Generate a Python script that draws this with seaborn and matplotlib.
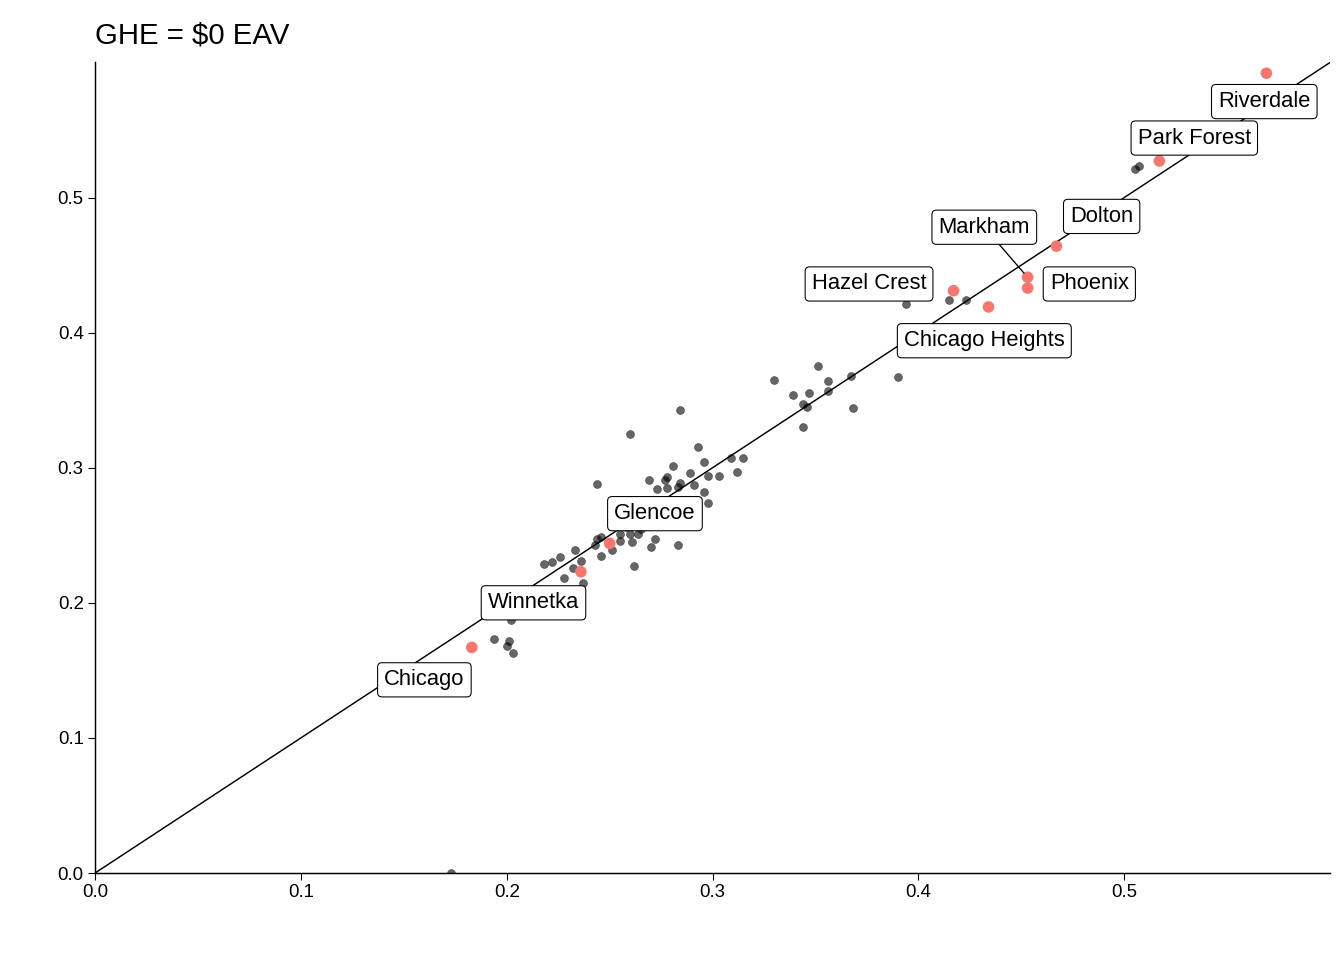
import matplotlib
matplotlib.use("Agg")
import matplotlib.pyplot as plt
import seaborn as sns
import pandas as pd

sns.set_style("ticks")
plt.rcParams['font.family'] = ['Liberation Sans', 'DejaVu Sans']
plt.rcParams['text.color'] = 'black'

# other municipalities (grey)
other_x = [0.505, 0.507, 0.394, 0.415, 0.423, 0.390, 0.367, 0.368, 0.330, 0.339, 0.347,
           0.351, 0.356, 0.344, 0.346, 0.356, 0.344, 0.284, 0.260, 0.293, 0.296, 0.309,
           0.315, 0.312, 0.303, 0.298, 0.289, 0.281, 0.278, 0.277, 0.269, 0.244, 0.284,
           0.283, 0.273, 0.278, 0.291, 0.296, 0.298, 0.255, 0.260, 0.264, 0.272, 0.261,
           0.270, 0.283, 0.262, 0.244, 0.246, 0.243, 0.246, 0.251, 0.233, 0.226, 0.222,
           0.218, 0.232, 0.236, 0.228, 0.237, 0.202, 0.194, 0.201, 0.200, 0.203, 0.173,
           0.255, 0.258, 0.265]
other_y = [0.521, 0.523, 0.421, 0.424, 0.424, 0.367, 0.368, 0.344, 0.365, 0.354, 0.355,
           0.375, 0.364, 0.347, 0.345, 0.357, 0.330, 0.343, 0.325, 0.315, 0.304, 0.307,
           0.307, 0.297, 0.294, 0.294, 0.296, 0.301, 0.293, 0.291, 0.291, 0.288, 0.289,
           0.286, 0.284, 0.285, 0.287, 0.282, 0.274, 0.251, 0.251, 0.251, 0.247, 0.245,
           0.241, 0.243, 0.227, 0.247, 0.249, 0.243, 0.235, 0.239, 0.239, 0.234, 0.230,
           0.229, 0.226, 0.231, 0.218, 0.215, 0.187, 0.173, 0.172, 0.168, 0.163, 0.000,
           0.246, 0.256, 0.255]

# highlighted municipalities
towns = ["Riverdale", "Park Forest", "Dolton", "Markham", "Phoenix", "Hazel Crest",
         "Chicago Heights", "Glencoe", "Winnetka", "Chicago"]
town_x = [0.569, 0.517, 0.467, 0.453, 0.453, 0.417, 0.434, 0.250, 0.236, 0.183]
town_y = [0.592, 0.527, 0.464, 0.441, 0.433, 0.431, 0.419, 0.244, 0.223, 0.167]
label_x = [0.568, 0.534, 0.489, 0.432, 0.483, 0.376, 0.432, 0.272, 0.213, 0.160]
label_y = [0.571, 0.544, 0.486, 0.478, 0.436, 0.436, 0.394, 0.266, 0.200, 0.143]

others = pd.DataFrame({"x": other_x, "y": other_y})
hl = pd.DataFrame({"x": town_x, "y": town_y, "name": towns})

fig = plt.figure(figsize=(14, 10), dpi=96)
ax = fig.add_axes([0.0707, 0.0906, 0.919, 0.8444])

ax.plot([0, 0.6], [0, 0.6], color="black", lw=1.1, zorder=1)
sns.scatterplot(data=others, x="x", y="y", ax=ax, color="black", alpha=0.6,
                s=36, edgecolor="black", linewidth=0.4, zorder=2)
sns.scatterplot(data=hl, x="x", y="y", ax=ax, color="#F8766D", s=75,
                edgecolor="none", zorder=3)

for name, px, py, lx, ly in zip(towns, town_x, town_y, label_x, label_y):
    arrow = None
    if name == "Markham":
        arrow = dict(arrowstyle="-", color="black", lw=1, shrinkA=0, shrinkB=4)
    ax.annotate(name, xy=(px, py), xytext=(lx, ly), ha="center", va="center",
                fontsize=16.5, zorder=4, color="black",
                bbox=dict(boxstyle="round,pad=0.3,rounding_size=0.2", fc="white",
                          ec="black", lw=0.8),
                arrowprops=arrow)

ax.set_xlim(0, 0.6)
ax.set_ylim(0, 0.6)
ax.set_xticks([0, 0.1, 0.2, 0.3, 0.4, 0.5])
ax.set_yticks([0, 0.1, 0.2, 0.3, 0.4, 0.5])
ax.set_xticklabels(["0.0", "0.1", "0.2", "0.3", "0.4", "0.5"])
ax.set_yticklabels(["0.0", "0.1", "0.2", "0.3", "0.4", "0.5"])
ax.tick_params(labelsize=14, colors="black", length=5)
ax.set_xlabel("")
ax.set_ylabel("")
for side in ["left", "bottom"]:
    ax.spines[side].set_color("black")
    ax.spines[side].set_linewidth(1.1)
sns.despine(ax=ax)
ax.set_title("GHE = $0 EAV", loc="left", fontsize=22, pad=14, color="black")

fig.savefig("out.png", dpi=96)
